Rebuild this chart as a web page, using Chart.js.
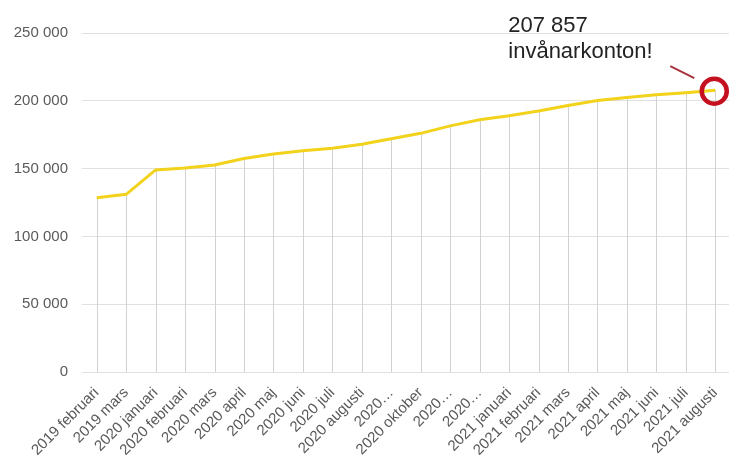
<!DOCTYPE html>
<html lang="sv">
<head>
  <meta charset="UTF-8" />
  <title>Invånarkonton</title>
  <script src="https://cdn.jsdelivr.net/npm/chart.js"></script>
  <style>
    * { margin: 0; padding: 0; box-sizing: border-box; }
    body { background: #fff; width: 729px; height: 455px; overflow: hidden; }
    .wrap { position: relative; width: 732px; height: 455px; }
  </style>
</head>
<body>
<div class="wrap"><canvas id="chart"></canvas></div>

<script>
  const months = ['2019 februari', '2019 mars', '2020 januari', '2020 februari', '2020 mars', '2020 april',
    '2020 maj', '2020 juni', '2020 juli', '2020 augusti', '2020 september', '2020 oktober',
    '2020 november', '2020 december', '2021 januari', '2021 februari', '2021 mars', '2021 april',
    '2021 maj', '2021 juni', '2021 juli', '2021 augusti'];
  // labels as they appear on the axis (long ones cut short)
  const tickLabels = ['2019 februari', '2019 mars', '2020 januari', '2020 februari', '2020 mars', '2020 april',
    '2020 maj', '2020 juni', '2020 juli', '2020 augusti', '2020…', '2020 oktober',
    '2020…', '2020…', '2021 januari', '2021 februari', '2021 mars', '2021 april',
    '2021 maj', '2021 juni', '2021 juli', '2021 augusti'];
  const accounts = [128500, 131000, 149000, 150500, 152700, 157500,
    160800, 163200, 165000, 168000, 172000, 176000,
    181500, 186000, 189000, 192500, 196500, 200200,
    202500, 204500, 206000, 207857];
  const yTicks = [0, 50000, 100000, 150000, 200000, 250000];
  const calloutLines = ['207 857', 'invånarkonton!'];

  const fmt = v => String(v).replace(/\B(?=(\d{3})+(?!\d))/g, ' ');

  // grey drop lines from each point down to the zero line
  const dropLines = {
    id: 'dropLines',
    beforeDatasetsDraw(chart) {
      const ctx = chart.ctx, y0 = chart.scales.y.getPixelForValue(0);
      ctx.save();
      ctx.strokeStyle = '#d2d2d2';
      ctx.lineWidth = 1;
      chart.getDatasetMeta(0).data.forEach(p => {
        const x = Math.round(p.x) + 0.5;
        ctx.beginPath();
        ctx.moveTo(x, p.y);
        ctx.lineTo(x, y0);
        ctx.stroke();
      });
      ctx.restore();
    }
  };

  // red ring round the last point + text
  const callout = {
    id: 'callout',
    afterDatasetsDraw(chart) {
      const ctx = chart.ctx;
      const pts = chart.getDatasetMeta(0).data;
      const last = pts[pts.length - 1];
      ctx.save();
      ctx.strokeStyle = '#c4101f';
      ctx.lineWidth = 4.5;
      ctx.beginPath();
      ctx.arc(last.x - 1, last.y + 1, 12.5, 0, Math.PI * 2);
      ctx.stroke();

      ctx.strokeStyle = '#a8303c';
      ctx.lineWidth = 1.8;
      ctx.beginPath();
      ctx.moveTo(last.x - 45, last.y - 24);
      ctx.lineTo(last.x - 21, last.y - 12);
      ctx.stroke();

      ctx.fillStyle = '#222';
      ctx.font = '22px "Liberation Sans", Arial, sans-serif';
      ctx.textAlign = 'left';
      ctx.textBaseline = 'alphabetic';
      ctx.fillText(calloutLines[0], last.x - 207, 32);
      ctx.fillText(calloutLines[1], last.x - 207, 58);
      ctx.restore();
    }
  };

  new Chart(document.getElementById('chart'), {
    type: 'line',
    data: {
      labels: months,
      datasets: [{
        data: accounts,
        borderColor: '#f2d21b',
        borderWidth: 3,
        pointRadius: 0,
        tension: 0,
        fill: false
      }]
    },
    options: {
      responsive: true,
      maintainAspectRatio: false,
      animation: false,
      layout: { padding: { top: 33, right: 0, left: 0, bottom: 0 } },
      plugins: { legend: { display: false }, tooltip: { enabled: false } },
      scales: {
        x: {
          offset: true,
          grid: { display: false },
          border: { display: false },
          afterFit: axis => { axis.height = 83; },
          ticks: {
            autoSkip: false,
            maxRotation: 45,
            minRotation: 45,
            padding: 4,
            color: '#5a5a5a',
            font: { family: '"Liberation Sans", Arial, sans-serif', size: 15 },
            callback: (v, i) => tickLabels[i]
          }
        },
        y: {
          min: yTicks[0],
          max: yTicks[yTicks.length - 1],
          afterBuildTicks: axis => { axis.ticks = yTicks.map(v => ({ value: v })); },
          afterFit: axis => { axis.width = 82; },
          grid: { color: '#e0e0e0', drawTicks: false },
          border: { display: false },
          ticks: {
            padding: 14,
            color: '#5a5a5a',
            font: { family: '"Liberation Sans", Arial, sans-serif', size: 15 },
            callback: v => fmt(v)
          }
        }
      }
    },
    plugins: [dropLines, callout]
  });
</script>
</body>
</html>
